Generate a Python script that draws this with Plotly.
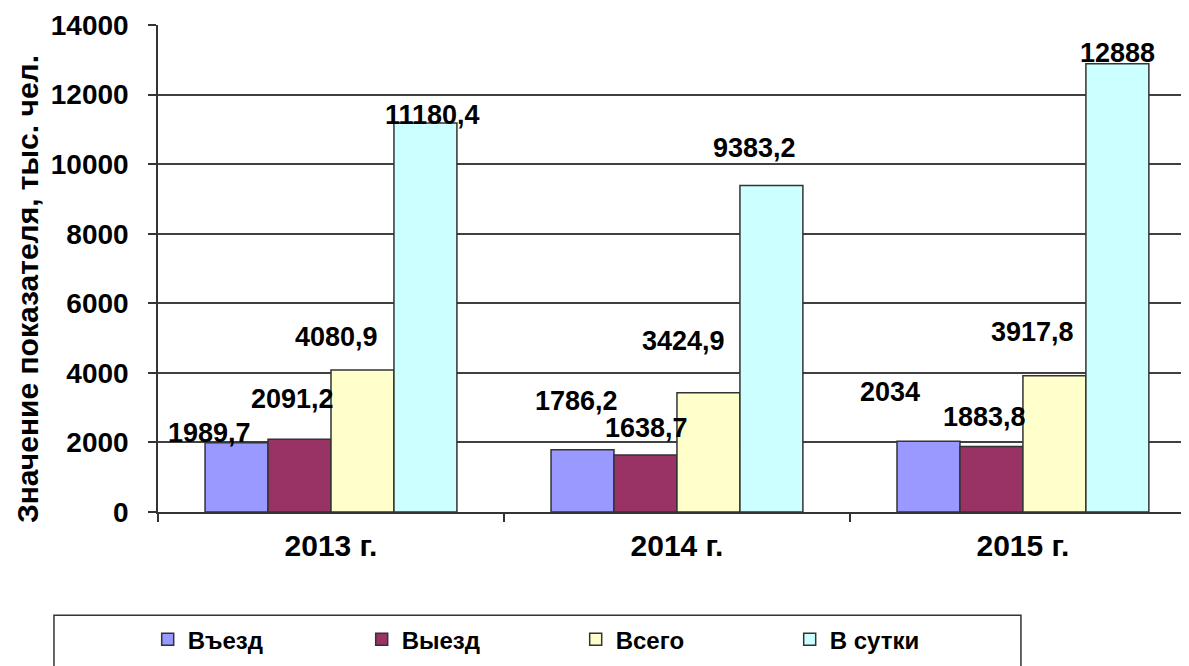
import plotly.graph_objects as go

categories = ["2013 г.", "2014 г.", "2015 г."]
series_names = ["Въезд", "Выезд", "Всего", "В сутки"]
entry = [1989.7, 1786.2, 2034]
exit_ = [2091.2, 1638.7, 1883.8]
total = [4080.9, 3424.9, 3917.8]
per_day = [11180.4, 9383.2, 12888]
label_text = [
    ["1989,7", "1786,2", "2034"],
    ["2091,2", "1638,7", "1883,8"],
    ["4080,9", "3424,9", "3917,8"],
    ["11180,4", "9383,2", "12888"],
]
y_ticks = [0, 2000, 4000, 6000, 8000, 10000, 12000, 14000]
y_title = "Значение показателя, тыс. чел."

colors = ["#9999FF", "#993366", "#FFFFCC", "#CCFFFF"]
# label offsets in px (dx, dy) per series per category (style only)
offsets = [
    [(-27, 10), (-6, 49), (-38, 49)],
    [(-7, 40), (1, 27), (-7, 29)],
    [(-26, 33), (-25, 52), (-22, 44)],
    [(7, 8), (-17, 38), (0, 11)],
]

values = [entry, exit_, total, per_day]
FONT = "Liberation Sans, Arial, sans-serif"
bargap = 0.272

fig = go.Figure()
for name, vals, col in zip(series_names, values, colors):
    fig.add_trace(go.Bar(
        x=categories, y=vals, name=name,
        marker=dict(color=col, line=dict(color="#333333", width=1.5)),
        hoverinfo="x+y+name",
    ))

bw = (1 - bargap) / 4
annotations = []
for i, vals in enumerate(values):
    for j, v in enumerate(vals):
        dx, dy = offsets[i][j]
        annotations.append(dict(
            x=j + (i - 1.5) * bw, y=v, xref="x", yref="y",
            text=label_text[i][j], showarrow=False,
            xanchor="center", yanchor="middle", xshift=dx, yshift=dy,
            font=dict(family=FONT, size=27, color="#000000", weight="bold"),
        ))

# y-axis title as rotated annotation (placed a bit below axis centre, as in original)
annotations.append(dict(
    x=-0.126, y=0.458, xref="paper", yref="paper",
    text=y_title, showarrow=False, textangle=-90,
    xanchor="center", yanchor="middle",
    font=dict(family=FONT, size=30, color="#000000", weight="bold"),
))

# page body has an 8px margin: figure is shifted to compensate
fig.update_layout(
    width=1181, height=658,
    margin=dict(l=150, r=0, t=17, b=154),
    paper_bgcolor="white", plot_bgcolor="white",
    barmode="group", bargap=bargap, bargroupgap=0,
    font=dict(family=FONT, color="#000000"),
    annotations=annotations,
    showlegend=True,
    legend=dict(
        orientation="h", x=-0.01, xanchor="left", y=-0.262, yanchor="middle",
        font=dict(family=FONT, size=24, color="#000000", weight="bold"),
        entrywidth=169, entrywidthmode="pixels", itemwidth=30,
        bgcolor="rgba(0,0,0,0)", borderwidth=0,
    ),
    shapes=[dict(
        type="rect", xref="paper", yref="paper",
        x0=-0.1009, x1=0.837, y0=-0.212, y1=-0.40,
        line=dict(color="#333333", width=1.5), fillcolor="rgba(0,0,0,0)",
        layer="below",
    )],
)

fig.update_xaxes(
    range=[-0.5, 2.48], showgrid=False,
    showline=True, linecolor="#333333", linewidth=1.5,
    ticks="outside", tickson="boundaries", ticklen=8, tickcolor="#333333", tickwidth=1.5,
    tickfont=dict(family=FONT, size=30, color="#000000", weight="bold"),
    ticklabelstandoff=6,
)
fig.update_yaxes(
    range=[0, 14000], tickvals=y_ticks, tickformat="d",
    showgrid=True, gridcolor="#404040", gridwidth=1.5,
    showline=True, linecolor="#333333", linewidth=1.5,
    ticks="outside", ticklen=8, tickcolor="#333333", tickwidth=1.5,
    tickfont=dict(family=FONT, size=28, color="#000000", weight="bold"),
    ticklabelstandoff=14, ticklabeloverflow="allow",
    zeroline=False,
)

fig.write_html("out.html")
